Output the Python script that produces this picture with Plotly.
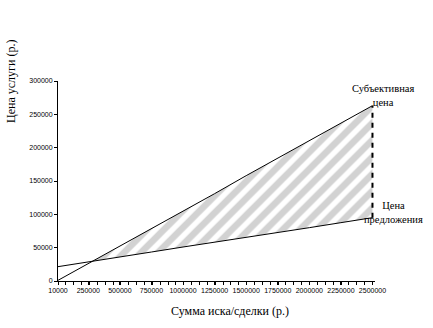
import plotly.graph_objects as go

# Claim / deal amount (rub.)
claim_amount = [10000, 250000, 500000, 750000, 1000000, 1250000,
                1500000, 1750000, 2000000, 2250000, 2500000]
# Subjective price of the service
subjective_price = [1000, 26000, 52000, 79000, 105000, 131000,
                    158000, 184000, 210000, 237000, 263000]
# Offer price of the service
offer_price = [21500, 29000, 36000, 43500, 51000, 58000,
               65500, 73000, 80000, 87500, 95000]

y_ticks = [0, 50000, 100000, 150000, 200000, 250000, 300000]
x_ticks = [10000, 250000, 500000, 750000, 1000000, 1250000,
           1500000, 1750000, 2000000, 2250000, 2500000]

W, H = 433, 328
L, R, T, B = 58, 58, 81, 47

# crossing point of the two price lines
cross = None
for i in range(1, len(claim_amount)):
    d0 = subjective_price[i - 1] - offer_price[i - 1]
    d1 = subjective_price[i] - offer_price[i]
    if d0 <= 0 < d1:
        t = -d0 / (d1 - d0)
        cx = claim_amount[i - 1] + t * (claim_amount[i] - claim_amount[i - 1])
        cy = offer_price[i - 1] + t * (offer_price[i] - offer_price[i - 1])
        cross = (cx, cy, i)
        break

cx, cy, ci = cross
poly_x = [cx] + claim_amount[ci:] + claim_amount[ci:][::-1] + [cx]
poly_y = [cy] + subjective_price[ci:] + offer_price[ci:][::-1] + [cy]

fig = go.Figure()

# hatched area between the lines
fig.add_trace(go.Scatter(
    x=poly_x, y=poly_y, mode="none", fill="toself",
    fillcolor="rgba(0,0,0,0)",
    fillpattern=dict(shape="/", fgcolor="#a6a6a6", bgcolor="white",
                     size=12, solidity=0.55),
    hoverinfo="skip", showlegend=False))

# dashed right edge of the area
fig.add_trace(go.Scatter(
    x=[claim_amount[-1], claim_amount[-1]],
    y=[offer_price[-1], subjective_price[-1]],
    mode="lines", line=dict(color="black", width=2, dash="5px,5px"),
    showlegend=False, hoverinfo="skip"))

fig.add_trace(go.Scatter(
    x=claim_amount, y=subjective_price, mode="lines",
    line=dict(color="black", width=1), showlegend=False))
fig.add_trace(go.Scatter(
    x=claim_amount, y=offer_price, mode="lines",
    line=dict(color="black", width=1), showlegend=False))

tick_font = dict(family="Liberation Sans, Arial", size=7, color="black")
serif = dict(family="Liberation Serif, Times New Roman", color="black")

minor_vals = [10000 + k * 62250 for k in range(41)]

fig.update_xaxes(
    type="linear", range=[10000, 2500000 + 20000],
    tickmode="array", tickvals=x_ticks,
    ticktext=[str(v) for v in x_ticks],
    ticks="outside", ticklen=3, tickwidth=1, tickcolor="black",
    minor=dict(tickmode="array", tickvals=minor_vals, ticks="outside",
               ticklen=3, tickwidth=1, tickcolor="black"),
    showline=True, linecolor="black", linewidth=1,
    showgrid=False, zeroline=False, tickfont=tick_font, tickangle=0)
fig.update_yaxes(
    range=[0, 300000], tickmode="array", tickvals=y_ticks,
    ticktext=[str(v) for v in y_ticks],
    ticks="outside", ticklen=3, tickwidth=1, tickcolor="black",
    showline=True, linecolor="black", linewidth=1,
    showgrid=False, zeroline=False, tickfont=tick_font)

pw, ph = W - L - R, H - T - B


def px(xp):
    return (xp - L) / pw


def py(yp):
    return (H - B - yp) / ph


def label(text, x, y, size, angle=0):
    return dict(text=text, textangle=angle, xref="paper", yref="paper",
                x=px(x), y=py(y), xanchor="center", yanchor="middle",
                showarrow=False, font=dict(size=size, **serif))


fig.update_layout(
    width=W, height=H,
    margin=dict(l=L, r=R, t=T, b=B, pad=0),
    paper_bgcolor="white", plot_bgcolor="white",
    annotations=[
        label("Цена услуги (р.)", 11, 82, 12, -90),
        label("Сумма иска/сделки (р.)", 230, 311, 12),
        label("Субъективная<br>цена", 383, 96, 10.5),
        label("Цена<br>предложения", 393, 212, 10.5),
    ],
)

fig.write_html("out.html")
